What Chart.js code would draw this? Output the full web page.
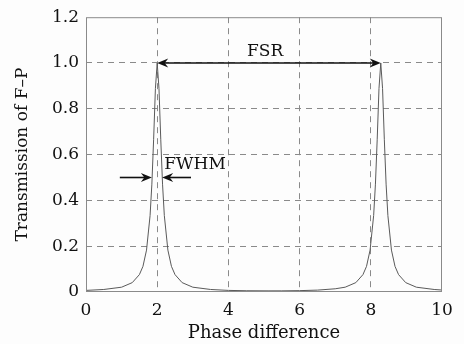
<!DOCTYPE html>
<html><head><meta charset="utf-8">
<script src="https://cdn.jsdelivr.net/npm/chart.js@4/dist/chart.umd.min.js"></script>
<style>html,body{margin:0;padding:0;background:#fdfdfd;}#w{width:464px;height:344px;}</style>
</head><body><div id="w"><canvas id="c" width="464" height="344"></canvas></div>
<script>
const phase = [0,0.5,1.0,1.3,1.5,1.6,1.7,1.8,1.85,1.9,1.95,2.0,2.05,2.1,2.15,2.2,2.3,2.4,2.5,2.7,3.0,3.5,4.0,4.5,5.14,5.5,6.0,6.5,7.0,7.28,7.58,7.78,7.88,7.98,8.08,8.13,8.18,8.23,8.28,8.33,8.38,8.43,8.48,8.58,8.68,8.78,8.98,9.28,9.78,10];
const transmission = [0.007,0.011,0.021,0.041,0.076,0.112,0.183,0.334,0.471,0.667,0.889,1.0,0.889,0.667,0.471,0.334,0.183,0.112,0.076,0.041,0.021,0.011,0.007,0.0055,0.005,0.0051,0.006,0.0082,0.014,0.021,0.041,0.076,0.112,0.183,0.334,0.471,0.667,0.889,1.0,0.889,0.667,0.471,0.334,0.183,0.112,0.076,0.041,0.021,0.011,0.0086];
const xTicks = [0,2,4,6,8,10];
const yTicks = [0,0.2,0.4,0.6,0.8,1.0,1.2];
const fsrArrow = {from:2.0, to:8.28, y:1.0, label:'FSR', labelX:5.03, labelY:1.05};
const fwhmArrows = {y:0.5, leftFrom:0.95, leftTo:1.85, rightFrom:2.95, rightTo:2.14, label:'FWHM', labelX:2.2, labelY:0.555};

const FONT = '"DejaVu Serif", serif';
const TXT = '#111';
const pts = phase.map((x,i)=>({x:x,y:transmission[i]}));

function arrowHead(ctx, tx, ty, dir){
  const L=11, W=4.5, notch=3.5;
  ctx.beginPath();
  ctx.moveTo(tx,ty);
  ctx.lineTo(tx-dir*L, ty-W);
  ctx.lineTo(tx-dir*(L-notch), ty);
  ctx.lineTo(tx-dir*L, ty+W);
  ctx.closePath();
  ctx.fill();
}

const annot = {
  id:'annot',
  afterDatasetsDraw(chart){
    const ctx=chart.ctx, xs=chart.scales.x, ys=chart.scales.y, a=chart.chartArea;
    ctx.save();
    ctx.strokeStyle='#8a8a8a'; ctx.lineWidth=1; ctx.setLineDash([]);
    ctx.strokeRect(a.left+0.5,a.top+0.5,a.right-a.left-1,a.bottom-a.top-1);
    ctx.strokeStyle='#111'; ctx.fillStyle='#111'; ctx.lineWidth=1.6;
    const fy=ys.getPixelForValue(fsrArrow.y), fx1=xs.getPixelForValue(fsrArrow.from), fx2=xs.getPixelForValue(fsrArrow.to);
    ctx.beginPath(); ctx.moveTo(fx1+6,fy); ctx.lineTo(fx2-6,fy); ctx.stroke();
    arrowHead(ctx,fx1,fy,-1); arrowHead(ctx,fx2,fy,1);
    const wy=ys.getPixelForValue(fwhmArrows.y);
    const l1=xs.getPixelForValue(fwhmArrows.leftFrom), l2=xs.getPixelForValue(fwhmArrows.leftTo);
    const r1=xs.getPixelForValue(fwhmArrows.rightFrom), r2=xs.getPixelForValue(fwhmArrows.rightTo);
    ctx.beginPath(); ctx.moveTo(l1,wy); ctx.lineTo(l2-6,wy); ctx.stroke(); arrowHead(ctx,l2,wy,1);
    ctx.beginPath(); ctx.moveTo(r1,wy); ctx.lineTo(r2+6,wy); ctx.stroke(); arrowHead(ctx,r2,wy,-1);
    ctx.fillStyle=TXT; ctx.font='17px '+FONT; ctx.textBaseline='middle';
    ctx.textAlign='center';
    ctx.fillText(fsrArrow.label, xs.getPixelForValue(fsrArrow.labelX), ys.getPixelForValue(fsrArrow.labelY));
    ctx.textAlign='left';
    ctx.fillText(fwhmArrows.label, xs.getPixelForValue(fwhmArrows.labelX), ys.getPixelForValue(fwhmArrows.labelY));
    ctx.restore();
  }
};

const gridColor = (ctx, lo, hi) => {
  const v = ctx.tick ? ctx.tick.value : null;
  if (v===null || Math.abs(v-lo)<1e-9 || Math.abs(v-hi)<1e-9) return 'rgba(0,0,0,0)';
  return '#8a8a8a';
};

new Chart(document.getElementById('c'), {
  type:'line',
  data:{datasets:[{data:pts, borderColor:'#5a5a5a', borderWidth:1, pointRadius:0, tension:0, fill:false}]},
  plugins:[annot],
  options:{
    responsive:false, animation:false, maintainAspectRatio:false,
    layout:{padding:{top:15,right:22,left:0,bottom:0}},
    plugins:{legend:{display:false}, tooltip:{enabled:false}},
    scales:{
      x:{type:'linear', min:0, max:10,
        afterBuildTicks(s){ s.ticks = xTicks.map(v=>({value:v})); },
        afterFit(s){ s.height = 52; },
        ticks:{color:TXT, font:{family:FONT,size:17}, padding:8, maxRotation:0, callback:v=>String(v)},
        grid:{drawTicks:false, color:c=>gridColor(c,0,10), lineWidth:1},
        border:{display:false, dash:[6,5]},
        title:{display:true, text:'Phase difference', color:TXT, font:{family:FONT,size:18}, padding:{top:0,bottom:0}}
      },
      y:{type:'linear', min:0, max:1.2,
        afterBuildTicks(s){ s.ticks = yTicks.map(v=>({value:v})); },
        afterFit(s){ s.width = 86; },
        ticks:{color:TXT, font:{family:FONT,size:17}, padding:7, callback:v=> v===0?'0':v.toFixed(1)},
        grid:{drawTicks:false, color:c=>gridColor(c,0,1.2), lineWidth:1},
        border:{display:false, dash:[6,5]},
        title:{display:true, text:'Transmission of F–P', color:TXT, font:{family:FONT,size:17}, padding:{top:12,bottom:4}}
      }
    }
  }
});
</script></body></html>
